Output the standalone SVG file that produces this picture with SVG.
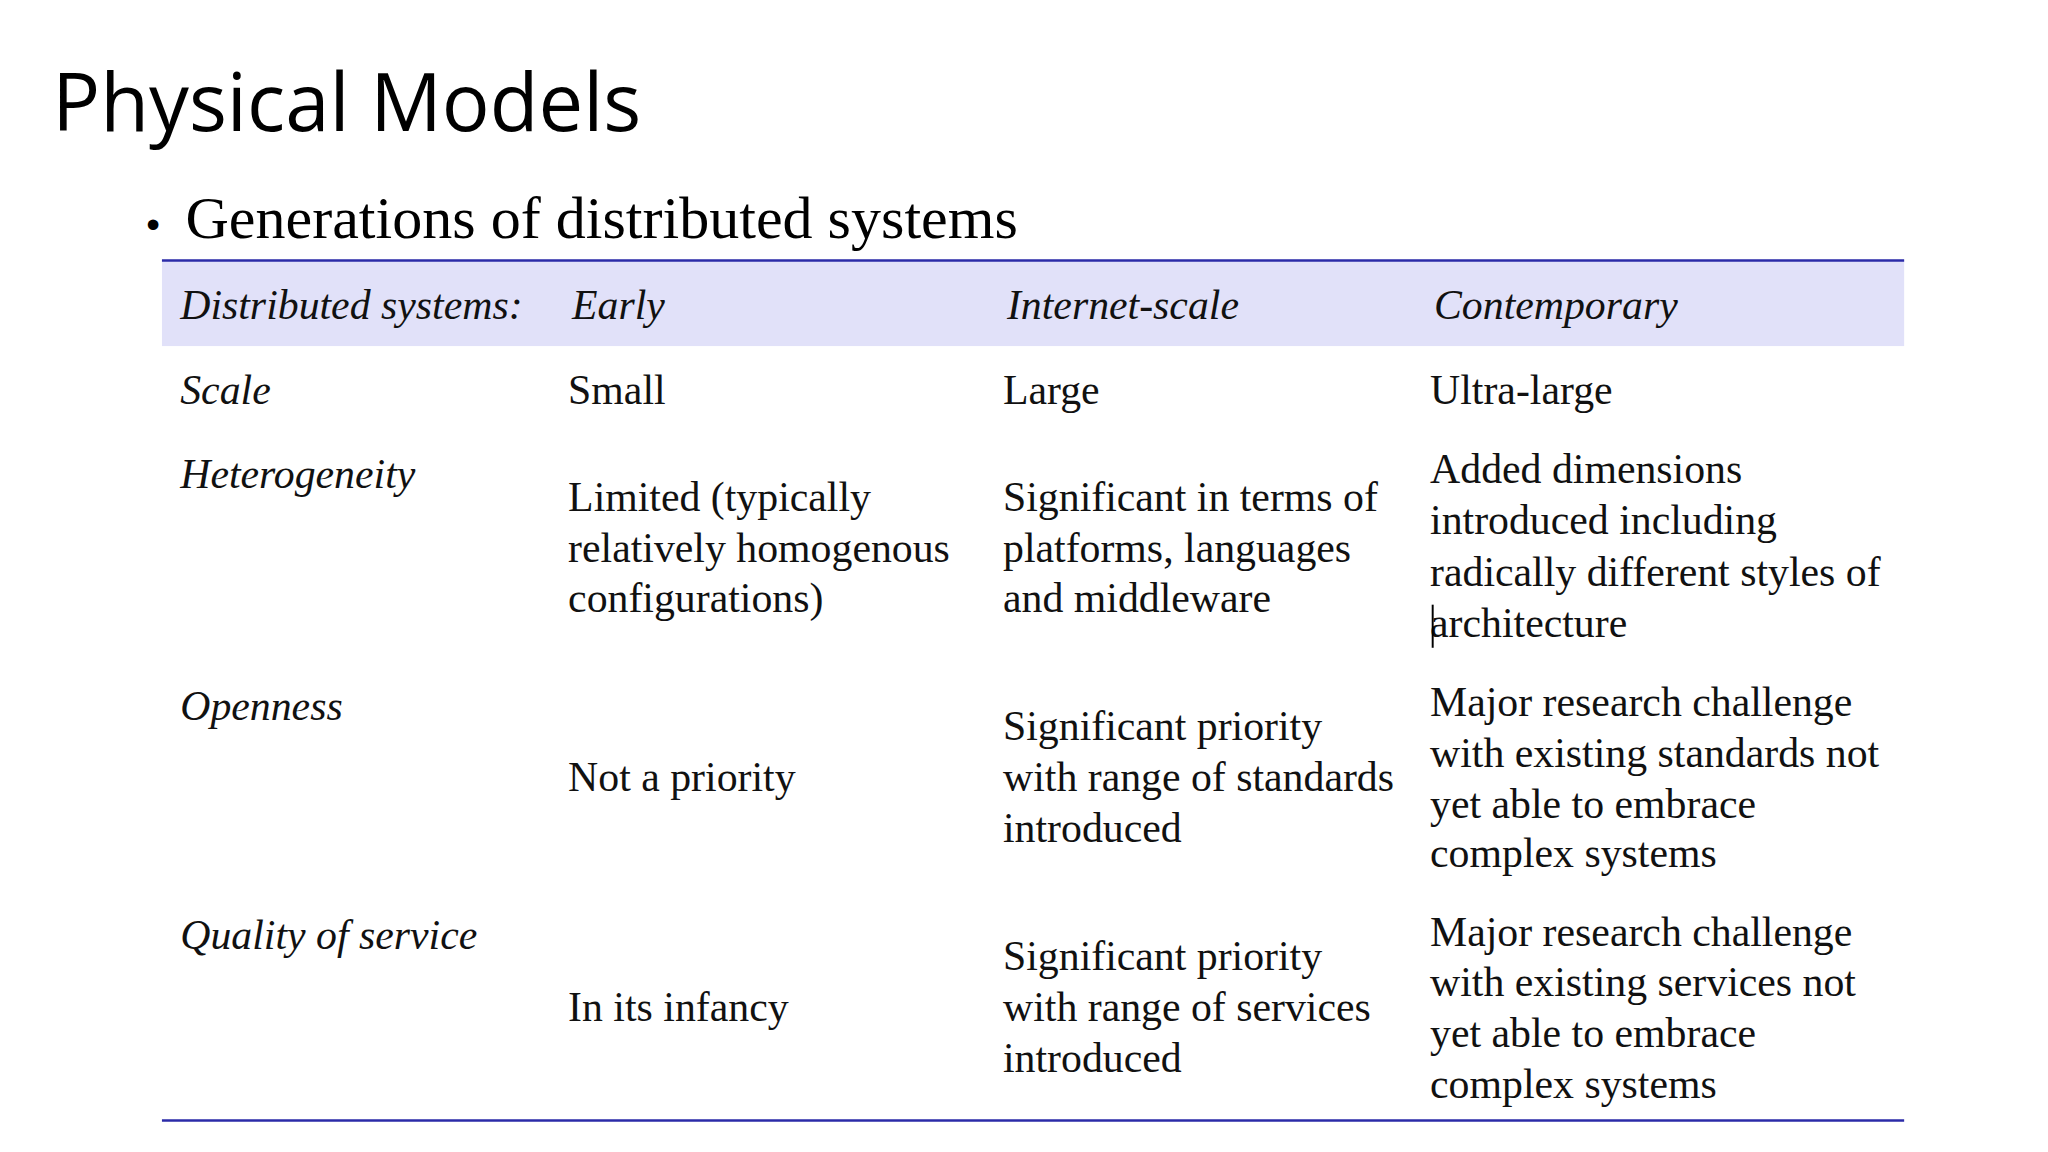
<svg xmlns="http://www.w3.org/2000/svg" width="2048" height="1152" viewBox="0 0 2048 1152">
<style>
.t{font-family:"Liberation Serif","Times New Roman",serif;font-size:32px;fill:#111}
.i{font-style:italic}
</style>
<rect width="2048" height="1152" fill="#fff"/>
<g transform="scale(1.306)">
<g id="title"><text x="40" y="100" font-family="Open Sans,Liberation Sans,sans-serif" font-size="61" fill="#000">Physical Models</text></g>
<g id="bullet"><text x="112" y="182" font-family="Liberation Sans,sans-serif" font-size="30" fill="#000">•</text>
<text x="142" y="182" font-family="Liberation Serif,serif" font-size="46" fill="#000">Generations of distributed systems</text></g>
<g id="table">
<rect x="124" y="199" width="1334" height="66" fill="#e1e1f9"/>
<line x1="124" y1="199.5" x2="1458" y2="199.5" stroke="#2b2ba8" stroke-width="2"/>
<line x1="124" y1="858" x2="1458" y2="858" stroke="#2b2ba8" stroke-width="2"/>
<g class="t i"><text x="138" y="244">Distributed systems:</text><text x="438" y="244">Early</text><text x="771" y="244">Internet-scale</text><text x="1098" y="244">Contemporary</text>
<text x="138" y="309">Scale</text><text x="138" y="374">Heterogeneity</text><text x="138" y="551">Openness</text><text x="138" y="727">Quality of service</text></g>
<g class="t">
<text x="435" y="309">Small</text><text x="768" y="309">Large</text><text x="1095" y="309">Ultra-large</text>
<text x="435" y="391">Limited (typically</text><text x="435" y="430">relatively homogenous</text><text x="435" y="469">configurations)</text>
<text x="768" y="391">Significant in terms of</text><text x="768" y="430">platforms, languages</text><text x="768" y="469">and middleware</text>
<text x="1095" y="370">Added dimensions</text><text x="1095" y="409">introduced including</text><text x="1095" y="449">radically different styles of</text><text x="1095" y="488">architecture</text>
<text x="435" y="606">Not a priority</text>
<text x="768" y="567">Significant priority</text><text x="768" y="606">with range of standards</text><text x="768" y="645">introduced</text>
<text x="1095" y="548">Major research challenge</text><text x="1095" y="587">with existing standards not</text><text x="1095" y="626">yet able to embrace</text><text x="1095" y="664">complex systems</text>
<text x="435" y="782">In its infancy</text>
<text x="768" y="743">Significant priority</text><text x="768" y="782">with range of services</text><text x="768" y="821">introduced</text>
<text x="1095" y="724">Major research challenge</text><text x="1095" y="763">with existing services not</text><text x="1095" y="802">yet able to embrace</text><text x="1095" y="841">complex systems</text>
</g>
<line x1="1097" y1="463" x2="1097" y2="496" stroke="#000" stroke-width="1.5"/>
</g>
</g>
</svg>
